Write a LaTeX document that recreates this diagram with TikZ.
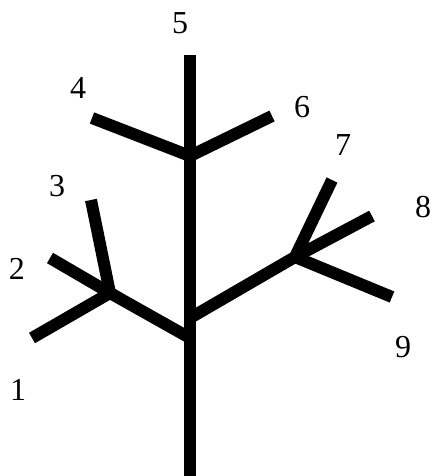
\documentclass[tikz,border=0pt]{standalone}
\usepackage{fontspec}
\setmainfont{Liberation Serif}
\usetikzlibrary{positioning}
\tikzset{
  limb/.style={line width=12pt, black},
  lbl/.style={font=\fontsize{32}{36}\selectfont, inner sep=0pt},
}

\begin{document}
\begin{tikzpicture}[x=1pt, y=-1pt]
\useasboundingbox (0,0) rectangle (433,476);

% trunk and junctions
\coordinate (base) at (190,476);
\coordinate (low) at (190,338);
\coordinate (mid) at (190,318);
\coordinate (up) at (190,156);
\coordinate (jl) at (110,293);
\coordinate (jr) at (295,257);

% leaves
\coordinate (t1) at (32,338);
\coordinate (t2) at (50,258);
\coordinate (t3) at (91,200);
\coordinate (t4) at (92,118);
\coordinate (t5) at (190,55);
\coordinate (t6) at (272,116);
\coordinate (t7) at (332,180);
\coordinate (t8) at (372,216);
\coordinate (t9) at (392,297);

\node[lbl] (l1) at (18,390) {1};
\node[lbl] (l2) at (17,269) {2};
\node[lbl] (l3) at (57,186) {3};
\node[lbl] (l4) at (78,88) {4};
\node[lbl] (l5) at (180,23) {5};
\node[lbl] (l6) at (302,107) {6};
\node[lbl] (l7) at (343,145) {7};
\node[lbl] (l8) at (423,207) {8};
\node[lbl] (l9) at (403,347) {9};

\draw[limb] (base) -- (t5);
\draw[limb] (t4) -- (up) -- (t6);
\draw[limb] (low) -- (jl);
\draw[limb] (mid) -- (jr);
\draw[limb] (t1) -- (jl) -- (t2);
\draw[limb] (jl) -- (t3);
\draw[limb] (t7) -- (jr) -- (t9);
\draw[limb] (jr) -- (t8);

\end{tikzpicture}
\end{document}
